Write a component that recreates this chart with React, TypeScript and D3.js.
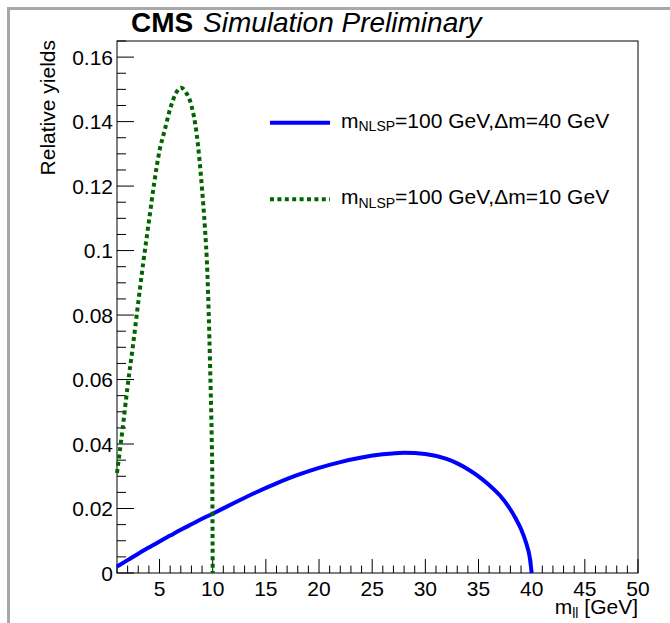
import React from "react";
import * as d3 from "d3";

const xTicks = [5, 10, 15, 20, 25, 30, 35, 40, 45, 50];
const yTicks = [0, 0.02, 0.04, 0.06, 0.08, 0.1, 0.12, 0.14, 0.16];

// m_NLSP=100 GeV, Δm=40 GeV
const blueX = [1, 2, 3, 4, 5, 6, 7, 8, 9, 10, 12, 14, 16, 18, 20, 22, 24, 26, 28, 30, 32, 33, 34, 35, 36, 37, 38, 38.5, 39, 39.5, 39.8, 40];
const blueY = [0.002, 0.004, 0.006, 0.0079, 0.0098, 0.0116, 0.0134, 0.0151, 0.0168, 0.0184, 0.0217, 0.0249, 0.0278, 0.0304, 0.0326, 0.0344, 0.0358, 0.0368, 0.0373, 0.0369, 0.0354, 0.0340, 0.0322, 0.0300, 0.0273, 0.0241, 0.0197, 0.0169, 0.0136, 0.0091, 0.0052, 0];

// m_NLSP=100 GeV, Δm=10 GeV
const greenX = [1, 1.5, 2, 2.5, 3, 3.5, 4, 4.5, 5, 5.5, 6, 6.5, 7, 7.5, 8, 8.5, 9, 9.25, 9.5, 9.75, 9.9, 9.96, 10];
const greenY = [0.031, 0.044, 0.058, 0.0705, 0.084, 0.097, 0.109, 0.121, 0.131, 0.1375, 0.144, 0.1485, 0.1505, 0.149, 0.145, 0.136, 0.119, 0.108, 0.093, 0.065, 0.043, 0.03, 0];

const FONT = "'Liberation Sans', Arial, Helvetica, sans-serif";

export default function App() {
  const W = 670, H = 623;
  const x = d3.scaleLinear().domain([1, 50]).range([117, 638]);
  const y = d3.scaleLinear().domain([0, 0.165]).range([573, 41]);

  const line = d3
    .line<[number, number]>()
    .x((d) => x(d[0]))
    .y((d) => y(d[1]))
    .curve(d3.curveMonotoneX);

  const blue = blueX.map((v, i) => [v, blueY[i]] as [number, number]);
  const green = greenX.map((v, i) => [v, greenY[i]] as [number, number]);

  const xMinor = d3.range(1, 51, 1).filter((v) => v % 5 !== 0);
  const yMinor = d3.range(0, 0.1651, 0.005).filter((v) => Math.abs(v / 0.02 - Math.round(v / 0.02)) > 1e-6);

  const fmt = (v: number) => (v === 0 ? "0" : String(+v.toFixed(2)));

  return (
    <svg width={W} height={H} style={{ position: "absolute", left: 0, top: 0, background: "#fff" }} fontFamily={FONT}>
      <rect x={0} y={0} width={W} height={H} fill="#fff" />
      {/* screenshot border */}
      <rect x={7} y={7} width={W - 7} height={3} fill="#a8a8a8" />
      <rect x={7} y={7} width={3} height={H - 7} fill="#a8a8a8" />

      {/* frame */}
      <rect x={x(1)} y={y(0.165)} width={x(50) - x(1)} height={y(0) - y(0.165)} fill="none" stroke="#000" strokeWidth={1} />

      {/* x ticks */}
      {xTicks.map((t) => (
        <line key={"xt" + t} x1={x(t)} x2={x(t)} y1={y(0)} y2={y(0) - 14} stroke="#000" strokeWidth={1} />
      ))}
      {xMinor.map((t) => (
        <line key={"xm" + t} x1={x(t)} x2={x(t)} y1={y(0)} y2={y(0) - 7.5} stroke="#000" strokeWidth={1} />
      ))}
      {xTicks.map((t) => (
        <text key={"xl" + t} x={x(t)} y={596} fontSize={21} textAnchor="middle" fill="#000">
          {t}
        </text>
      ))}

      {/* y ticks */}
      {yTicks.map((t) => (
        <line key={"yt" + t} x1={x(1)} x2={x(1) + 17} y1={y(t)} y2={y(t)} stroke="#000" strokeWidth={1} />
      ))}
      {yMinor.map((t) => (
        <line key={"ym" + t} x1={x(1)} x2={x(1) + 9} y1={y(t)} y2={y(t)} stroke="#000" strokeWidth={1} />
      ))}
      {yTicks.map((t) => (
        <text key={"yl" + t} x={113} y={y(t) + 7.5} fontSize={21} textAnchor="end" fill="#000">
          {fmt(t)}
        </text>
      ))}

      {/* curves */}
      <path d={line(blue) || ""} fill="none" stroke="#0000ff" strokeWidth={4} />
      <path d={line(green) || ""} fill="none" stroke="#006400" strokeWidth={4} strokeDasharray="4 3.4" />

      {/* legend */}
      <line x1={270} x2={330} y1={122.7} y2={122.7} stroke="#0000ff" strokeWidth={4} />
      <text x={341} y={127.5} fontSize={21} fill="#000">
        m<tspan fontSize={14} dy={3.5}>NLSP</tspan>
        <tspan dy={-3.5}>=100 GeV,Δm=40 GeV</tspan>
      </text>
      <line x1={270} x2={330} y1={199.3} y2={199.3} stroke="#006400" strokeWidth={4} strokeDasharray="4 3.4" />
      <text x={341} y={204.3} fontSize={21} fill="#000">
        m<tspan fontSize={14} dy={3.5}>NLSP</tspan>
        <tspan dy={-3.5}>=100 GeV,Δm=10 GeV</tspan>
      </text>

      {/* title */}
      <text x={131} y={32} fontSize={28} fontWeight="bold" fill="#000">CMS</text>
      <text x={203} y={32} fontSize={28} fontStyle="italic" fill="#000">Simulation Preliminary</text>

      {/* axis titles */}
      <text transform="translate(55,40) rotate(-90)" fontSize={21} textAnchor="end" fill="#000">
        Relative yields
      </text>
      <text x={638} y={614} fontSize={21} textAnchor="end" fill="#000">
        m<tspan fontSize={14} dy={4}>ll</tspan>
        <tspan dy={-4}> [GeV]</tspan>
      </text>
    </svg>
  );
}
